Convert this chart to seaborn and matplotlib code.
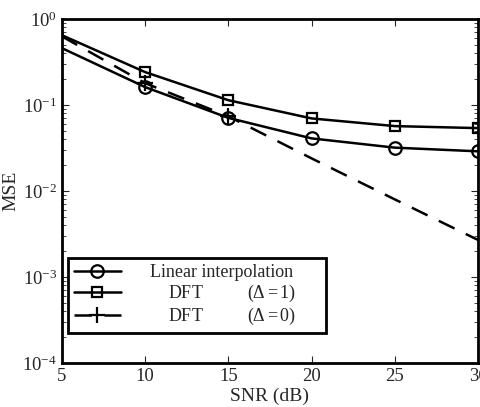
import numpy as np
import pandas as pd
import matplotlib.pyplot as plt
import seaborn as sns

# 数据
snr = [5, 10, 15, 20, 25, 30]
mse_linear = [0.46, 0.162, 0.071, 0.041, 0.032, 0.029]
mse_dft1 = [0.65, 0.242, 0.114, 0.070, 0.057, 0.054]
mse_dft0 = [0.63, 0.18, 0.074, 0.024, 0.008, 0.0027]

labels = ['Linear interpolation      ', '    DFT          ($\\Delta = 1$)', '    DFT          ($\\Delta = 0$)']

sns.set_theme(style='ticks')
plt.rcParams['font.family'] = ['Liberation Serif', 'DejaVu Serif']
plt.rcParams['mathtext.fontset'] = 'custom'
plt.rcParams['mathtext.rm'] = 'Liberation Serif'
plt.rcParams['mathtext.it'] = 'Liberation Serif:italic'
plt.rcParams['mathtext.bf'] = 'Liberation Serif:bold'
plt.rcParams['font.size'] = 12

df = pd.DataFrame({'snr': snr, 'linear': mse_linear, 'dft1': mse_dft1, 'dft0': mse_dft0})

fig = plt.figure(figsize=(4.8, 4.07), dpi=100)
ax = fig.add_axes([0.129, 0.108, 0.867, 0.845])

common = dict(color='black', linewidth=1.8, markersize=9, markerfacecolor='none',
              markeredgecolor='black', markeredgewidth=1.6)

sns.lineplot(data=df, x='snr', y='linear', ax=ax, marker='o', markevery=[1, 2, 3, 4, 5],
             label=labels[0], **common)
sns.lineplot(data=df, x='snr', y='dft1', ax=ax, marker='s', markevery=[1, 2, 3, 4, 5],
             label=labels[1], **dict(common, markersize=7.5))
sns.lineplot(data=df, x='snr', y='dft0', ax=ax, marker='+', markevery=[1, 2],
             label=labels[2], linestyle=(0, (7, 5)), **dict(common, markersize=12))

ax.set_yscale('log')
ax.set_xlim(5, 30)
ax.set_ylim(1e-4, 1)
ax.set_xticks([5, 10, 15, 20, 25, 30])
ax.set_xlabel('SNR (dB)', fontsize=14, labelpad=2)
ax.set_ylabel('MSE', fontsize=14, labelpad=2)

ax.tick_params(which='both', direction='in', top=True, right=True, labelsize=13.5)
ax.tick_params(which='major', length=5, width=0.8)
ax.tick_params(which='minor', length=3, width=0.6)
for sp in ax.spines.values():
    sp.set_linewidth(2)
    sp.set_color('black')

leg = ax.legend(loc='lower left', bbox_to_anchor=(-0.008, 0.06), frameon=True, fancybox=False,
                edgecolor='black', framealpha=1, handlelength=2.6, handletextpad=1.6,
                fontsize=13, borderpad=0.35, labelspacing=0.1)
leg.get_frame().set_linewidth(2)

plt.savefig('out.png', dpi=100)
